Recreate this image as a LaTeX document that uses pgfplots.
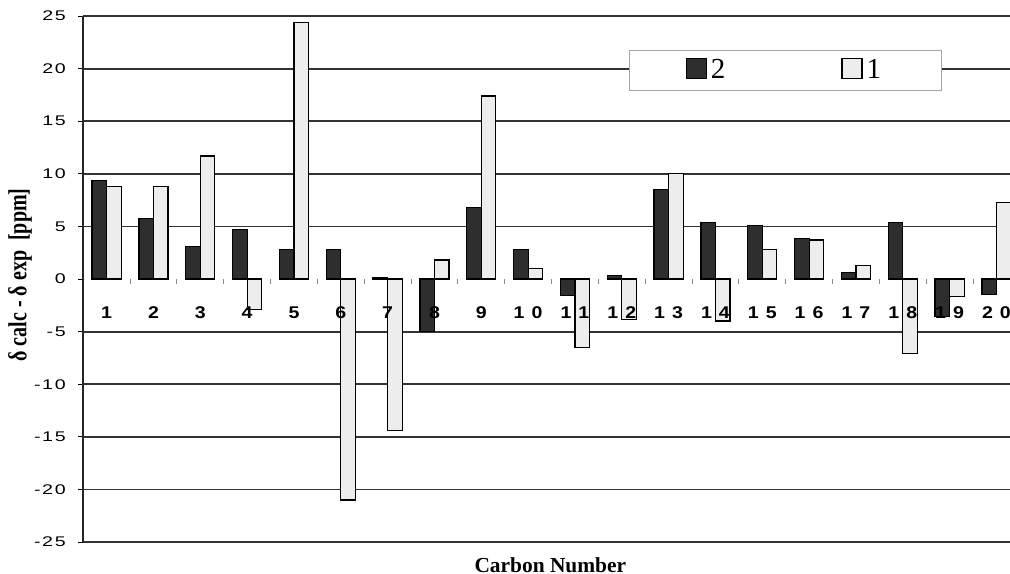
\documentclass[border=0pt]{standalone}
\usepackage{fontspec}
\setmainfont{Liberation Serif}
\newfontfamily\ytickfont[FakeStretch=1.4,LetterSpace=12]{Liberation Sans}
\newfontfamily\xtickfont[FakeStretch=1.15]{Liberation Sans}
\usepackage{graphicx}
\usepackage{pgfplots}
\usepackage{pgfplotstable}
\pgfplotsset{compat=1.18}
\pgfplotsset{sqlegend/.style={legend image code/.code={\draw[##1,line width=0.6pt] (0pt,-4pt) rectangle (10pt,6pt);}}}
\pgfplotsset{common/.style={
  at={(0,0)}, anchor=south west,
  scale only axis, width=463.4pt, height=263pt,
  xmin=0.5, xmax=20.29, ymin=-25, ymax=25}}

\pgfplotstableread{
c s2 s1
1 9.4 8.8
2 5.75 8.8
3 3.1 11.7
4 4.7 -2.9
5 2.8 24.4
6 2.8 -21.0
7 0.1 -14.4
8 -5.0 1.8
9 6.8 17.4
10 2.8 1.0
11 -1.6 -6.5
12 0.3 -3.85
13 8.5 10.0
14 5.4 -4.0
15 5.1 2.8
16 3.85 3.7
17 0.6 1.25
18 5.4 -7.1
19 -3.6 -1.7
20 -1.5 7.3
}\data

\begin{document}
\begin{tikzpicture}
\begin{axis}[
  common,
  axis x line=middle, axis y line=left,
  x axis line style={draw=none},
  y axis line style={-, black!85, line width=0.9pt},
  hide obscured x ticks=false, hide obscured y ticks=false,
  tick align=outside, major tick length=2.5pt, minor tick length=2.5pt,
  ytick={-25,-20,-15,-10,-5,5,10,15,20,25},
  yticklabels={-25,-20,-15,-10,-5,5,10,15,20,25},
  extra y ticks={0}, extra y tick labels={0},
  extra y tick style={grid=none},
  ymajorgrids, grid style={black!80, line width=0.9pt},
  ytick style={black, line width=0.5pt},
  xtick={1,...,20}, xticklabels={},
  minor xtick={1.5,2.5,...,19.5},
  major x tick style={draw=none},
  minor x tick style={black!45, line width=0.4pt},
  yticklabel style={font=\ytickfont\fontsize{7}{8}\selectfont, xshift=-2.7pt},
  xlabel={Carbon Number},
  xlabel style={at={(rel axis cs:0.504,-0.0165)}, anchor=north, font=\bfseries\fontsize{10.7}{12}\selectfont},
  ylabel={\scalebox{1}[1.3]{δ calc - δ exp\ \ [ppm]}},
  ylabel style={at={(rel axis cs:-0.0682,0.5076)}, anchor=center, font=\bfseries\fontsize{10}{11}\selectfont},
  ybar=0pt, bar width=0.31,
  legend columns=2,
  legend style={at={(rel axis cs:0.589,0.935)}, anchor=north west, draw=black!35, line width=0.5pt, fill=white,
    inner xsep=28pt, inner ysep=2.5pt, font=\fontsize{14.5}{16}\selectfont,
    /tikz/every even column/.append style={column sep=56pt}, nodes={inner sep=2pt}},
]
\addplot[fill=black!82, draw=black, line width=0.6pt, sqlegend]
  table[x=c,y=s2]{\data};
\addplot[fill=black!7, draw=black, line width=0.6pt, sqlegend]
  table[x=c,y=s1]{\data};
\legend{2,1}
\end{axis}
% tick labels of the category axis, drawn over the bars
\begin{axis}[
  common,
  axis x line=middle, axis y line=none,
  x axis line style={draw=none},
  hide obscured x ticks=false,
  xtick={1,...,20},
  xticklabels={1,2,3,4,5,6,7,8,9,1\hspace{3.5pt}0,1\hspace{3.5pt}1,1\hspace{3.5pt}2,1\hspace{3.5pt}3,1\hspace{3.5pt}4,1\hspace{3.5pt}5,1\hspace{3.5pt}6,1\hspace{3.5pt}7,1\hspace{3.5pt}8,1\hspace{3.5pt}9,2\hspace{3.5pt}0},
  major x tick style={draw=none},
  ytick=\empty,
  xticklabel style={font=\xtickfont\bfseries\fontsize{8.5}{10}\selectfont, anchor=center, yshift=-14.8pt},
]
\end{axis}
\pgfresetboundingbox
\useasboundingbox (-41.6pt,-15.5pt) rectangle (463.4pt,271pt);
\end{tikzpicture}
\end{document}
